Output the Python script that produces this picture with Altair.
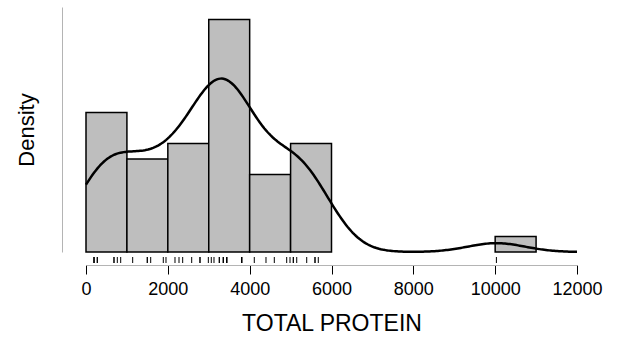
import altair as alt
import pandas as pd

protein = [196, 196, 196, 276, 276, 684, 684, 765, 848,
           1141, 1498, 1498, 1581, 1889, 1955,
           2175, 2273, 2363, 2583, 2786, 2786, 2990,
           3062, 3128, 3258, 3258, 3356, 3356, 3356,
           3439, 3439, 3439, 3439, 3805, 3805, 3805, 3805,
           4113, 4399, 4602, 4905, 4986,
           5067, 5067, 5150, 5394, 5597, 5597, 5677,
           10030]
x_ticks = [0, 2000, 4000, 6000, 8000, 10000, 12000]
bin_step = 1000
bandwidth = 700

N = len(protein)
df = pd.DataFrame({"protein": protein})

W, H = 491, 245
FONT = "Liberation Sans"

xscale = alt.Scale(domain=[0, 12000], nice=False, zero=False)
yscale = alt.Scale(domain=[0, 0.000316], nice=False)

xaxis = alt.Axis(title="TOTAL PROTEIN", values=x_ticks, format="d", grid=False, offset=13,
                 tickSize=9, tickColor="black", tickWidth=1,
                 domainColor="#b4b4b4", domainWidth=1,
                 labelFont=FONT, labelFontSize=18, labelColor="black", labelPadding=6,
                 labelFlush=False, labelOverlap=False,
                 titleFont=FONT, titleFontSize=23, titleFontWeight="normal",
                 titleColor="black", titlePadding=14)
yaxis = alt.Axis(title="Density", ticks=False, labels=False, grid=False, offset=24,
                 domainColor="#b4b4b4", domainWidth=1,
                 titleFont=FONT, titleFontSize=22, titleFontWeight="normal",
                 titleColor="black", titlePadding=24)

hist = alt.Chart(df).transform_bin(
    as_=["b0", "b1"], field="protein",
    bin=alt.Bin(extent=[0, 12000], step=bin_step)
).transform_aggregate(
    count="count()", groupby=["b0", "b1"]
).transform_calculate(
    density=f"datum.count / ({N} * {bin_step})"
).mark_bar(fill="#bebebe", stroke="black", strokeWidth=1.5).encode(
    x=alt.X("b0:Q", scale=xscale, axis=xaxis),
    x2="b1:Q",
    y=alt.Y("density:Q", scale=yscale, axis=yaxis),
    y2=alt.datum(0),
)

kde = alt.Chart(df).transform_density(
    "protein", as_=["protein", "density"], bandwidth=bandwidth,
    extent=[0, 12000], steps=300
).mark_line(color="black", strokeWidth=2.5).encode(
    x=alt.X("protein:Q", scale=xscale, axis=xaxis),
    y=alt.Y("density:Q", scale=yscale, axis=yaxis),
)

rug = alt.Chart(df).mark_rule(color="black", strokeWidth=1).encode(
    x=alt.X("protein:Q", scale=xscale, axis=xaxis),
    y=alt.value(H + 5),
    y2=alt.value(H + 11),
)

chart = alt.layer(hist, kde, rug).properties(
    width=W, height=H,
    autosize=alt.AutoSizeParams(type="none"),
    padding={"left": 86, "top": 7, "right": 42, "bottom": 86},
).configure_view(stroke=None)

chart.save("out.html", embed_options={"renderer": "svg", "actions": False})
